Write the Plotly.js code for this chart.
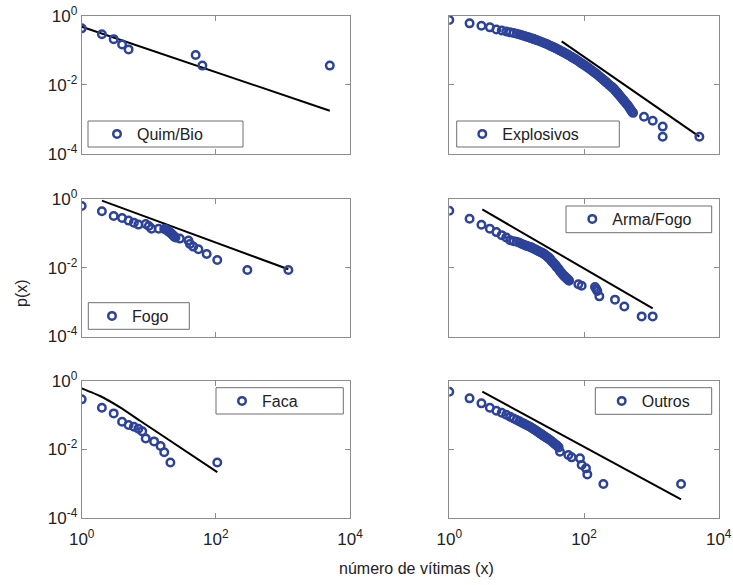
<!DOCTYPE html>
<html><head><meta charset="utf-8">
<script src="https://cdn.plot.ly/plotly-3.0.1.min.js"></script>
<style>html,body{margin:0;padding:0;background:#fff}</style>
</head><body><div id="chart" style="width:733px;height:585px"></div>
<script>
// ---- data ----
const seriesNames = ['Quim/Bio', 'Explosivos', 'Fogo', 'Arma/Fogo', 'Faca', 'Outros'];

const quimX = [1, 2, 3, 4, 5, 50, 63, 5000];
const quimY = [0.43, 0.29, 0.21, 0.148, 0.106, 0.073, 0.036, 0.036];
const quimFitX = [1, 5000];
const quimFitY = [0.48, 0.00179];

const explX = [1, 2, 3, 4, 5, 6, 7, 8, 9, 10, 11, 12, 13, 14, 15, 16, 17, 18, 19, 20, 22, 24, 26, 28, 30, 32, 34, 36, 38, 40, 43, 46, 49, 52, 55, 58, 62, 66, 70, 75, 80, 85, 90, 95, 100, 106, 112, 118, 125, 132, 140, 148, 156, 165, 175, 185, 195, 205, 215, 225, 235, 245, 255, 265, 275, 285, 295, 305, 315, 325, 340, 355, 370, 385, 400, 420, 440, 460, 480, 500, 520, 535, 778, 1047, 1473, 1473, 5163];
const explY = [0.75, 0.60, 0.51, 0.46, 0.40, 0.375, 0.35, 0.33, 0.315, 0.302, 0.286, 0.272, 0.259, 0.248, 0.237, 0.2275, 0.2188, 0.2104, 0.2032, 0.1963, 0.1824, 0.1706, 0.1603, 0.1514, 0.1422, 0.134, 0.1268, 0.1205, 0.1146, 0.1091, 0.1012, 0.0944, 0.0885, 0.0832, 0.0785, 0.0738, 0.0682, 0.0634, 0.0592, 0.0546, 0.0504, 0.0466, 0.0432, 0.0403, 0.0378, 0.035, 0.0325, 0.0302, 0.0277, 0.0256, 0.0236, 0.0218, 0.0202, 0.0184, 0.0166, 0.0152, 0.0139, 0.0128, 0.0118, 0.0109, 0.0101, 0.00946, 0.00887, 0.00832, 0.0078, 0.00721, 0.00667, 0.00619, 0.00577, 0.00538, 0.00484, 0.00438, 0.00397, 0.00361, 0.0033, 0.00295, 0.00264, 0.00237, 0.00208, 0.00185, 0.00164, 0.00155, 0.0012, 0.00092, 0.00062, 0.000317, 0.000317];
const explFitX = [46.6, 5164];
const explFitY = [0.181, 0.000317];

const fogoX = [1, 2, 3, 4, 5, 6, 7, 9, 10, 11, 14, 17, 18, 19, 20, 21, 22, 23, 24, 25, 29, 39, 41, 46, 55, 73, 105, 295, 1205];
const fogoY = [0.626, 0.438, 0.321, 0.281, 0.235, 0.205, 0.180, 0.188, 0.164, 0.137, 0.137, 0.134, 0.131, 0.120, 0.112, 0.105, 0.096, 0.088, 0.0805, 0.076, 0.0704, 0.0616, 0.0493, 0.0412, 0.0345, 0.0252, 0.0169, 0.00865, 0.00865];
const fogoFitX = [2, 1205];
const fogoFitY = [0.895, 0.00904];

const armaX = [1, 2, 3, 4, 5, 6, 7, 8, 9, 10, 11, 12, 13, 14, 15, 16, 17, 18, 19, 20, 21, 22, 23, 24, 25, 26, 27, 28, 29, 30, 31, 32, 33, 34, 35, 36, 37, 38, 39, 40, 42, 44, 46, 48, 50, 52, 54, 56, 58, 60, 82.4, 92.3, 145.6, 152, 157.8, 169, 288.5, 397, 718, 1047];
const armaY = [0.456, 0.267, 0.178, 0.136, 0.109, 0.0889, 0.076, 0.0635, 0.0594, 0.0568, 0.0531, 0.0491, 0.0459, 0.0434, 0.0415, 0.0401, 0.0379, 0.0359, 0.0339, 0.0324, 0.0307, 0.0293, 0.0281, 0.0268, 0.0259, 0.0245, 0.0232, 0.0219, 0.0207, 0.0194, 0.0185, 0.0171, 0.0158, 0.0148, 0.014, 0.0131, 0.0124, 0.0116, 0.0108, 0.0102, 0.00914, 0.00791, 0.00723, 0.00646, 0.00591, 0.00552, 0.00516, 0.00483, 0.00451, 0.00422, 0.0033, 0.0030, 0.00276, 0.0024, 0.00211, 0.00147, 0.00118, 0.00075, 0.000384, 0.000384];
const armaFitX = [3.09, 1047];
const armaFitY = [0.499, 0.000657];

const facaX = [1, 2, 3, 4, 5, 6, 7, 8, 9, 12, 15, 17, 21, 105];
const facaY = [0.285, 0.163, 0.111, 0.0635, 0.0508, 0.0454, 0.0397, 0.0332, 0.0207, 0.0169, 0.0124, 0.0081, 0.0041, 0.0041];
const facaFitX = [1, 1.88, 3.73, 7.41, 105];
const facaFitY = [0.597, 0.357, 0.1664, 0.0679, 0.00215];

const outrosX = [1, 2, 3, 4, 5, 6, 7, 8, 9, 10, 11, 12, 13, 14, 15, 16, 17, 18, 19, 20, 21, 22, 23, 24, 25, 26, 27, 28, 30, 32, 34, 36, 38, 40, 42, 44, 58.5, 65.6, 87.2, 92.3, 107, 112, 194, 2760];
const outrosY = [0.477, 0.305, 0.218, 0.163, 0.133, 0.116, 0.1017, 0.0889, 0.0788, 0.0711, 0.065, 0.0594, 0.0549, 0.051, 0.0477, 0.0446, 0.0412, 0.0382, 0.0356, 0.0333, 0.0312, 0.0293, 0.0277, 0.0262, 0.0248, 0.0236, 0.0224, 0.0214, 0.0195, 0.0179, 0.0163, 0.0148, 0.0136, 0.0126, 0.0113, 0.00845, 0.00676, 0.00578, 0.0054, 0.00345, 0.00276, 0.00184, 0.00096, 0.00096];
const outrosFitX = [3.09, 2760];
const outrosFitY = [0.477, 0.000343];

const xTickVals = [1, 100, 10000];
const xTickText = ['10<sup>0</sup>', '10<sup>2</sup>', '10<sup>4</sup>'];
const yTickVals = [0.0001, 0.01, 1];
const yTickText = ['10<sup>-4</sup>', '10<sup>-2</sup>', '10<sup>0</sup>'];

// ---- styling / layout ----
const W = 733, H = 585;
const px = v => v / W;
const py = v => 1 - v / H;
const markerColor = '#2d4299';
const fontFam = '"Liberation Sans", Arial, Helvetica, sans-serif';

const pts = [[quimX, quimY, quimFitX, quimFitY], [explX, explY, explFitX, explFitY],
             [fogoX, fogoY, fogoFitX, fogoFitY], [armaX, armaY, armaFitX, armaFitY],
             [facaX, facaY, facaFitX, facaFitY], [outrosX, outrosY, outrosFitX, outrosFitY]];

const colDom = [[81.7, 350], [449.3, 718.7]];
const rowDom = [[15.7, 154], [199, 336.5], [380.7, 517.7]];

// legend boxes [left, top, right, bottom] and symbol centre
const legBox = [[88, 121, 243, 147], [456.7, 121, 619.3, 147], [88.3, 302.7, 189.3, 329.3],
                [566, 206, 711.7, 232.7], [216, 387.7, 343.3, 414], [595.3, 387.7, 711.7, 414.3]];
const legSym = [[117, 134], [482.3, 134], [112, 316], [592.3, 219], [242, 401], [621.7, 401]];

const traces = [];
const layout = {
  width: W, height: H, margin: {l: 0, r: 0, t: 0, b: 0},
  paper_bgcolor: '#fff', plot_bgcolor: '#fff',
  font: {family: fontFam, color: '#222'},
  showlegend: true, shapes: [], annotations: []
};

for (let i = 0; i < 6; i++) {
  const r = Math.floor(i / 2), c = i % 2;
  const sfx = i === 0 ? '' : String(i + 1);
  const legName = i === 0 ? 'legend' : 'legend' + (i + 1);
  const [x, y, fx, fy] = pts[i];
  traces.push({
    x: fx, y: fy, type: 'scatter', mode: 'lines', xaxis: 'x' + sfx, yaxis: 'y' + sfx,
    line: {color: '#000', width: 2, shape: i === 4 ? 'spline' : 'linear', smoothing: 0.4},
    showlegend: false, hoverinfo: 'skip'
  });
  traces.push({
    x: x, y: y, type: 'scatter', mode: 'markers', name: seriesNames[i],
    xaxis: 'x' + sfx, yaxis: 'y' + sfx, legend: legName,
    marker: {symbol: 'circle-open', size: 7.5, color: markerColor, line: {width: 2.5, color: markerColor}}
  });
  const axCommon = {
    type: 'log', showline: true, linecolor: '#8c8c8c', linewidth: 1, mirror: 'ticks',
    ticks: 'inside', ticklen: 5, tickcolor: '#8c8c8c', showgrid: false, zeroline: false,
    tickfont: {family: fontFam, size: 17, color: '#222'}
  };
  layout['xaxis' + sfx] = Object.assign({}, axCommon, {
    domain: [px(colDom[c][0]), px(colDom[c][1])], range: [0, 4],
    tickvals: xTickVals, ticktext: xTickText, showticklabels: r === 2,
    ticklabelstandoff: 6, anchor: 'y' + sfx
  });
  layout['yaxis' + sfx] = Object.assign({}, axCommon, {
    domain: [py(rowDom[r][1]), py(rowDom[r][0])], range: [-4, 0],
    tickvals: yTickVals, ticktext: yTickText, showticklabels: c === 0,
    anchor: 'x' + sfx
  });
  const b = legBox[i];
  layout.shapes.push({type: 'rect', xref: 'paper', yref: 'paper',
    x0: px(b[0]), x1: px(b[2]), y0: py(b[3]), y1: py(b[1]),
    line: {color: '#6e6e6e', width: 1}, fillcolor: 'rgba(255,255,255,0)'});
  layout[legName] = {
    x: px(legSym[i][0] - 20), xanchor: 'left', y: py(legSym[i][1]), yanchor: 'middle',
    bgcolor: 'rgba(0,0,0,0)', borderwidth: 0,
    font: {family: fontFam, size: 16, color: '#222'}
  };
}

layout.annotations.push({text: 'número de vítimas (x)', xref: 'paper', yref: 'paper',
  x: px(416), y: py(568), showarrow: false, xanchor: 'center', yanchor: 'middle',
  font: {family: fontFam, size: 16, color: '#222'}});
layout.annotations.push({text: 'p(x)', xref: 'paper', yref: 'paper', textangle: -90,
  x: px(21), y: py(293), showarrow: false, xanchor: 'center', yanchor: 'middle',
  font: {family: fontFam, size: 16, color: '#222'}});

Plotly.newPlot('chart', traces, layout, {displayModeBar: false, staticPlot: true});
</script></body></html>
